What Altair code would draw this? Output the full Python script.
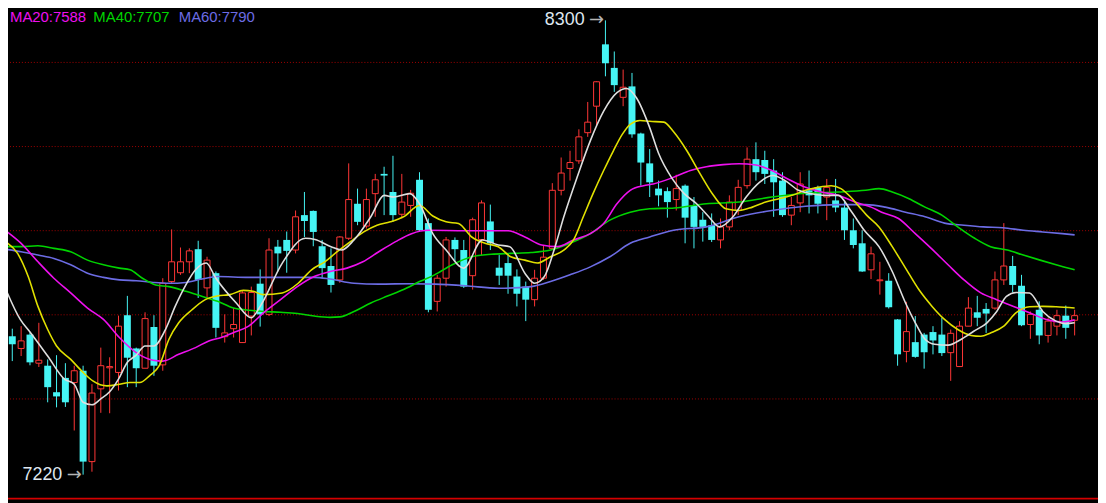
import altair as alt
import pandas as pd

# ---------------- data ----------------
opens = [7580,7549,7520,7553,7485,7479,7416,7450,7439,7467,
         7251,7424,7474,7463,7599,7520,7473,7571,7481,7679,
         7700,7726,7756,7664,7699,7548,7567,7534,7597,7674,
         7601,7762,7778,7754,7837,7847,7763,7716,7683,7782,
         7864,7811,7888,7935,7892,7839,7860,7921,7818,7632,
         7687,7778,7754,7693,7779,7822,7712,7723,7691,7667,
         7636,7687,7758,7896,7948,7966,8033,8096,8243,8187,
         8117,8143,8031,7960,7900,7894,7874,7907,7860,7826,
         7813,7778,7809,7848,7907,7970,7968,7943,7919,7837,
         7866,7896,7903,7880,7872,7855,7801,7770,7707,7681,
         7681,7589,7513,7535,7553,7559,7553,7510,7477,7573,
         7606,7614,7616,7683,7716,7669,7577,7612,7551,7573,
         7598,7587]
highs = [7592,7567,7573,7558,7581,7494,7504,7485,7479,7479,
         7435,7522,7499,7598,7645,7522,7606,7599,7687,7803,
         7760,7758,7776,7738,7703,7601,7616,7656,7667,7708,
         7782,7778,7798,7848,7892,7848,7778,7758,7787,7960,
         7900,7900,7935,7952,7978,7935,7897,7939,7829,7695,
         7785,7784,7778,7831,7872,7862,7742,7746,7708,7679,
         7707,7766,7913,7974,7990,8041,8106,8155,8300,8226,
         8183,8175,8033,7994,7919,7903,7933,7910,7880,7844,
         7841,7829,7884,7921,7998,8010,7990,7970,7939,7880,
         7939,7943,7907,7923,7923,7868,7829,7801,7762,7726,
         7699,7590,7631,7597,7557,7573,7593,7565,7585,7642,
         7645,7628,7703,7818,7740,7695,7608,7632,7593,7612,
         7622,7612]
lows = [7548,7490,7502,7480,7476,7392,7380,7381,7325,7220,
        7227,7367,7366,7420,7428,7428,7473,7455,7467,7675,
        7695,7699,7640,7640,7546,7534,7546,7533,7551,7572,
        7597,7703,7700,7746,7785,7763,7687,7653,7676,7778,
        7813,7805,7833,7837,7821,7829,7833,7797,7606,7608,
        7667,7726,7664,7660,7742,7754,7671,7650,7620,7585,
        7620,7683,7754,7884,7919,7959,8023,8049,8167,8130,
        8096,8021,7907,7880,7858,7831,7848,7770,7758,7774,
        7773,7758,7801,7837,7900,7919,7911,7833,7833,7813,
        7844,7841,7841,7825,7844,7778,7758,7702,7685,7648,
        7615,7479,7487,7498,7472,7506,7502,7443,7477,7573,
        7573,7557,7612,7671,7653,7573,7543,7530,7534,7551,
        7543,7551]
closes = [7558,7530,7538,7487,7492,7428,7406,7392,7467,7251,
          7414,7479,7477,7573,7498,7473,7591,7479,7675,7726,
          7726,7752,7683,7730,7569,7557,7577,7652,7653,7601,
          7754,7746,7752,7833,7823,7797,7711,7671,7785,7874,
          7821,7874,7921,7931,7837,7868,7889,7801,7612,7687,
          7778,7756,7667,7826,7866,7770,7693,7693,7650,7636,
          7687,7737,7896,7937,7962,8023,8058,8154,8198,8146,
          8141,8029,7962,7915,7884,7868,7900,7831,7809,7809,
          7778,7809,7868,7903,7970,7939,7935,7915,7837,7860,
          7911,7884,7864,7903,7855,7801,7766,7703,7745,7683,
          7618,7506,7560,7500,7511,7539,7509,7556,7573,7616,
          7593,7603,7683,7716,7671,7575,7601,7551,7585,7598,
          7569,7598]
idx = list(range(len(opens)))

ma5_i = [0.2,1.9,3,5,6.9,8,9,10,11,12,13,14,15,16,17,18.3,19.4,20.5,21.7,22.9,24,26.3,28,29,31.5,34.1,35.2,37,38.2,39.6,41.5,43,44.1,45.9,47,48.5,50,52,54.1,55.9,57.2,58.9,60,61.1,62.2,63.3,64.8,66.3,67.8,69.3,70.4,71.5,73,74,75.5,76.9,78.3,79.6,80.9,82.4,83.9,85.4,86.9,88.3,89.8,91.3,92.8,94.3,95.7,97.3,98.9,100.4,101.9,103,104.1,105.2,106.7,108.2,109.6,111.1,112.2,113.3,114.4,115.9,117.4,118.9,120,121]
ma5_v = [7664,7589,7559,7502,7447,7435,7392,7386,7400,7417,7447,7487,7504,7526,7526,7565,7620,7667,7707,7723,7687,7628,7593,7620,7723,7782,7779,7762,7754,7778,7833,7884,7880,7888,7864,7793,7754,7711,7778,7766,7762,7699,7675,7691,7754,7833,7927,8014,8084,8128,8138,8116,8045,7984,7925,7888,7864,7835,7809,7833,7880,7915,7931,7919,7896,7888,7884,7884,7848,7799,7762,7703,7628,7581,7542,7530,7528,7542,7561,7581,7608,7644,7653,7652,7608,7585,7579,7581]

ma10_i = [0.2,1.6,2.8,3.9,5,6,7.6,9,10.1,11.7,13.1,14.3,15.4,16.5,17.6,18.7,19.8,21.3,22.8,24.2,25.6,27.1,28.2,29.3,31.5,33.3,34.8,36.3,37.7,39.2,40.7,42.2,43.7,45.2,47,48.5,50,51.4,52.9,54.4,55.9,57.3,58.9,60.3,61.8,63.3,64.4,65.5,66.6,67.8,68.9,69.9,70.8,71.9,73,74.6,75.7,77.2,78.7,80.2,81.6,83.1,84.6,86.1,87.6,89.1,90.6,92,93.5,94.6,95.7,96.7,97.5,98.9,100.4,101.9,103.4,104.9,106.3,107.8,109.3,110.4,111.5,113,114.4,115.9,117.4,118.9,121]
ma10_v = [7774,7746,7691,7620,7565,7526,7494,7463,7443,7431,7435,7439,7439,7455,7479,7542,7581,7612,7636,7645,7648,7658,7656,7648,7652,7675,7707,7726,7750,7774,7797,7813,7821,7833,7860,7835,7821,7817,7785,7770,7762,7738,7730,7723,7738,7754,7778,7833,7888,7943,7990,8029,8053,8062,8060,8058,8035,7990,7935,7884,7852,7848,7856,7868,7876,7884,7896,7903,7907,7900,7880,7856,7837,7809,7762,7711,7660,7620,7589,7565,7551,7549,7557,7573,7605,7619,7620,7619,7616]

ma20_i = [0.2,2,3.9,5.7,7.6,9.5,11.3,13.1,15,16.9,18,19.8,21.7,23.2,24.6,25.9,27.7,29.4,31.3,33.2,35.1,36.9,38.8,40.6,42.4,44.3,46.1,48,52.2,57,58.9,60.8,62.6,64.4,66.3,67.8,69.3,70.8,72.3,73.4,75.7,77.6,79.4,81.3,83.1,85,86.8,88.6,90.6,92.4,94.3,96.2,98,99.2,101.1,103,104.8,106.7,108.5,110.4,112.2,114.1,115.9,117.8,119.6,121]
ma20_v = [7801,7770,7726,7687,7652,7616,7589,7546,7510,7492,7490,7506,7522,7538,7546,7557,7573,7605,7636,7667,7691,7703,7711,7726,7750,7774,7793,7801,7800,7800,7785,7766,7762,7778,7793,7817,7864,7896,7907,7911,7927,7943,7952,7957,7959,7956,7943,7923,7903,7892,7884,7868,7856,7844,7829,7793,7758,7719,7683,7652,7636,7620,7605,7589,7583,7588]

ma40_i = [0.2,2,3.9,5.7,7.6,9.5,11.3,13.1,14.3,15.7,17.2,18.7,20.6,22.4,24.2,26,27.7,29.4,31.3,33.2,35.1,36.9,38,39.6,41.5,43.3,45.2,47,48.7,50.7,52.9,55.1,57.3,59.6,61.8,64,66.3,68.5,70.8,73,75.8,79.4,83.1,86.8,90.6,94.3,97.4,98.9,100.4,102.3,104.1,106,107.8,109.7,111.5,113.4,115.2,117.1,118.9,121]
ma40_v = [7762,7762,7764,7758,7750,7730,7719,7711,7707,7687,7671,7667,7656,7644,7632,7616,7611,7608,7606,7603,7597,7594,7595,7608,7628,7644,7660,7679,7695,7719,7738,7744,7746,7748,7754,7770,7793,7825,7844,7852,7854,7864,7868,7880,7889,7892,7896,7900,7892,7876,7856,7837,7809,7782,7762,7754,7742,7730,7719,7707]

ma60_i = [0.2,2,3.9,5.7,7.6,9.5,11.3,13.1,15,16.9,18.7,20.6,22.4,24.2,27.7,31.3,35.1,36.9,39.6,42.4,46.1,48.7,52.2,55.9,59.6,61.8,64,66.3,68.5,70.8,73,75.7,79.4,83.1,86.8,90.6,94.3,97.4,99.6,101.9,104.1,106.3,108.5,110.7,112.9,115.2,117.4,119.6,121]
ma60_v = [7756,7750,7742,7734,7719,7699,7689,7683,7681,7677,7675,7677,7685,7691,7689,7689,7689,7685,7675,7673,7674,7673,7669,7663,7667,7679,7695,7714,7738,7770,7785,7801,7809,7833,7848,7858,7862,7862,7856,7844,7833,7818,7813,7809,7807,7801,7797,7793,7790]

grid_levels = [8200, 8000, 7800, 7600, 7400]
floor_level = [7163]
ann_i = [68, 9]
ann_p = [8300, 7220]
ann_t = ["8300", "7220"]
legend_labels = ["MA20:7588", "MA40:7707", "MA60:7790"]

# ---------------- styles ----------------
RED = "#ff3636"
CYAN = "#46f4f4"
C_MA5 = "#dedede"
C_MA10 = "#e0e000"
C_MA20 = "#ee10ee"
C_MA40 = "#00d400"
C_MA60 = "#6c6ce4"
W, H = 1098, 495

xs = alt.Scale(domain=[1.0778, 123.078], nice=False, zero=False)
ys = alt.Scale(domain=[7156.9, 8325.1], nice=False, zero=False)

candles = pd.DataFrame({"i": idx, "open": opens, "high": highs,
                        "low": lows, "close": closes})
candles["up"] = candles["close"] >= candles["open"]

X = alt.X("i:Q", scale=xs, axis=None)

grid = alt.Chart(pd.DataFrame({"p": grid_levels})).mark_rule(
    color="#a00000", strokeDash=[1, 2], strokeWidth=1
).encode(y=alt.Y("p:Q", scale=ys, axis=None))

floor = alt.Chart(pd.DataFrame({"p": floor_level})).mark_rule(
    color="#d40000", strokeWidth=2
).encode(y=alt.Y("p:Q", scale=ys, axis=None))

base = alt.Chart(candles)
wick_up = base.transform_filter("datum.up").mark_rule(color=RED, strokeWidth=1).encode(
    x=X, y=alt.Y("low:Q", scale=ys, axis=None), y2="high:Q")
wick_dn = base.transform_filter("!datum.up").mark_rule(color=CYAN, strokeWidth=1).encode(
    x=X, y=alt.Y("low:Q", scale=ys, axis=None), y2="high:Q")
body_up = base.transform_filter("datum.up").mark_bar(
    size=6, fill="black", stroke=RED, strokeWidth=1
).encode(x=X, y=alt.Y("open:Q", scale=ys, axis=None), y2="close:Q")
body_dn = base.transform_filter("!datum.up").mark_bar(
    size=7, color=CYAN
).encode(x=X, y=alt.Y("open:Q", scale=ys, axis=None), y2="close:Q")


def ma_line(ii, vv, color):
    return alt.Chart(pd.DataFrame({"i": ii, "v": vv})).mark_line(
        color=color, strokeWidth=1.6, interpolate="monotone", clip=True
    ).encode(x=alt.X("i:Q", scale=xs, axis=None),
             y=alt.Y("v:Q", scale=ys, axis=None))


ma60 = ma_line(ma60_i, ma60_v, C_MA60)
ma40 = ma_line(ma40_i, ma40_v, C_MA40)
ma20 = ma_line(ma20_i, ma20_v, C_MA20)
ma10 = ma_line(ma10_i, ma10_v, C_MA10)
ma5 = ma_line(ma5_i, ma5_v, C_MA5)

ann = pd.DataFrame({"i": ann_i, "p": ann_p, "t": ann_t})
ann_text = alt.Chart(ann).mark_text(
    align="right", baseline="middle", dx=-21, font="Liberation Sans",
    fontSize=18, color="#dfe7f0"
).encode(x=X, y=alt.Y("p:Q", scale=ys, axis=None), text="t:N")
ann_arrow = alt.Chart(ann).mark_text(
    text="→", align="center", baseline="middle", dx=-9, font="DejaVu Sans",
    fontSize=18, color="#b4b4b4"
).encode(x=X, y=alt.Y("p:Q", scale=ys, axis=None))


def legend_text(label, color, px):
    return alt.Chart(pd.DataFrame({"t": [label]})).mark_text(
        align="left", baseline="alphabetic", font="Liberation Sans",
        fontSize=15, color=color
    ).encode(text="t:N", x=alt.value(px), y=alt.value(12))


leg1 = legend_text(legend_labels[0], C_MA20, 2)
leg2 = legend_text(legend_labels[1], C_MA40, 86)
leg3 = legend_text(legend_labels[2], C_MA60, 172)

chart = alt.layer(
    grid, floor, wick_dn, wick_up, body_dn, body_up,
    ma60, ma40, ma20, ma10, ma5, ann_arrow, ann_text, leg1, leg2, leg3
).properties(
    width=W, height=H, background="black", padding=0,
    autosize=alt.AutoSizeParams(type="none")
).configure_view(stroke=None)

chart.save("out.html", embed_options={"renderer": "svg", "actions": False})
